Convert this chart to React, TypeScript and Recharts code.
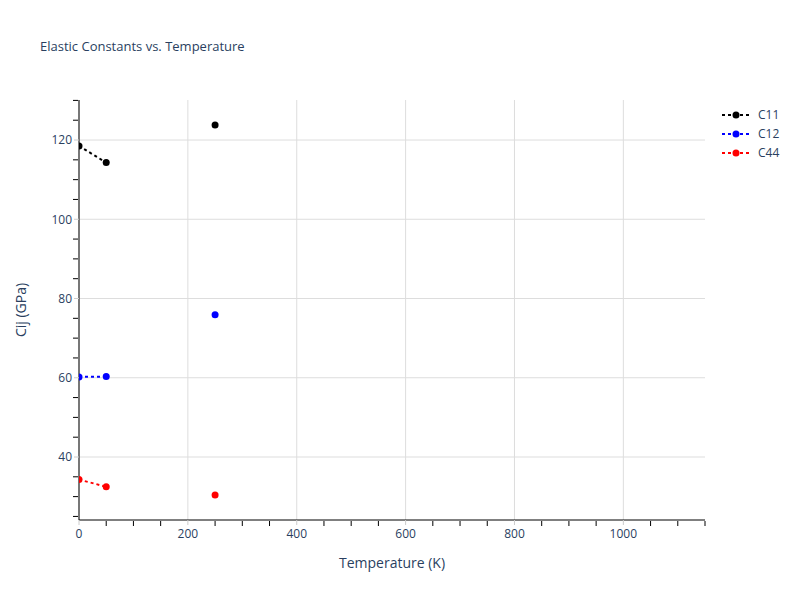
import React from 'react';
import { LineChart, Line, XAxis, YAxis, CartesianGrid } from 'recharts';

// temperatures (K); the null row at 150 breaks the dotted line before 250
const temps = [0, 50, 150, 250];
const c11 = [118.5, 114.3, null, 123.8];
const c12 = [60.2, 60.3, null, 75.9];
const c44 = [34.3, 32.5, null, 30.4];

const xMajor = [0, 200, 400, 600, 800, 1000];
const xMinor = [50, 100, 150, 250, 300, 350, 450, 500, 550, 650, 700, 750, 850, 900, 950, 1050, 1100, 1150];
const yMajor = [40, 60, 80, 100, 120];
const yMinor = [25, 30, 35, 45, 50, 55, 65, 70, 75, 85, 90, 95, 105, 110, 115, 125, 130];

const series = [
  { key: 'C11', color: '#000000' },
  { key: 'C12', color: '#0000ff' },
  { key: 'C44', color: '#ff0000' },
];

const rows = temps.map((t, i) => ({ T: t, C11: c11[i], C12: c12[i], C44: c44[i] }));

const font = '"Open Sans", Verdana, Arial, sans-serif';
const textColor = '#2a3f5f';
const gridColor = '#dddddd';

const noLabel = () => <g />;

export default function App() {
  return (
    <div style={{ position: 'absolute', left: 0, top: 0, width: 800, height: 600, background: '#fff', fontFamily: font }}>
      <LineChart width={800} height={600} data={rows} margin={{ top: 100, right: 95, bottom: 78, left: 77 }}>
        <CartesianGrid stroke={gridColor} strokeWidth={1} syncWithTicks />
        <XAxis
          dataKey="T"
          type="number"
          domain={[0, 1150]}
          ticks={xMajor}
          interval={0}
          allowDataOverflow
          height={1}
          tickLine={{ stroke: '#cccccc' }}
          tickSize={5}
          tickMargin={4}
          axisLine={{ stroke: '#000', strokeWidth: 1 }}
          tick={{ fill: textColor, fontSize: 12, fontFamily: font }}
        />
        <YAxis
          type="number"
          domain={[24.1, 130.1]}
          ticks={yMajor}
          interval={0}
          allowDataOverflow
          width={1}
          tickLine={{ stroke: '#cccccc' }}
          tickSize={5}
          tickMargin={2}
          axisLine={{ stroke: '#000', strokeWidth: 1 }}
          tick={{ fill: textColor, fontSize: 12, fontFamily: font }}
        />
        <XAxis
          xAxisId="minor"
          dataKey="T"
          type="number"
          domain={[0, 1150]}
          ticks={xMinor}
          interval={0}
          allowDataOverflow
          height={1}
          tick={noLabel}
          tickSize={5}
          tickLine={{ stroke: '#000' }}
          axisLine={false}
        />
        <YAxis
          yAxisId="minor"
          type="number"
          domain={[24.1, 130.1]}
          ticks={yMinor}
          interval={0}
          allowDataOverflow
          width={1}
          tick={noLabel}
          tickSize={5}
          tickLine={{ stroke: '#000' }}
          axisLine={false}
        />
        {series.map((s) => (
          <Line
            key={s.key}
            dataKey={s.key}
            stroke={s.color}
            strokeWidth={2}
            strokeDasharray="3 3"
            dot={{ r: 3.5, fill: s.color, stroke: s.color, strokeWidth: 0, strokeDasharray: '' }}
            activeDot={false}
            isAnimationActive={false}
          />
        ))}
      </LineChart>

      <div style={{ position: 'absolute', left: 40, top: 37, fontSize: 13, color: textColor, whiteSpace: 'nowrap' }}>
        Elastic Constants vs. Temperature
      </div>
      <div style={{ position: 'absolute', left: 292, width: 200, top: 553, textAlign: 'center', fontSize: 14, color: textColor }}>
        Temperature (K)
      </div>
      <div
        style={{
          position: 'absolute',
          left: 20,
          top: 310,
          fontSize: 14,
          color: textColor,
          whiteSpace: 'nowrap',
          transform: 'translate(-50%, -50%) rotate(-90deg)',
        }}
      >
        Cij (GPa)
      </div>

      <div style={{ position: 'absolute', left: 720, top: 105 }}>
        {series.map((s) => (
          <div key={s.key} style={{ display: 'flex', alignItems: 'center', height: 19 }}>
            <svg width={32} height={10}>
              <line x1={2} y1={5} x2={30} y2={5} stroke={s.color} strokeWidth={2} strokeDasharray="3 3" />
              <circle cx={16} cy={5} r={3.5} fill={s.color} />
            </svg>
            <span style={{ marginLeft: 6, fontSize: 12, color: textColor }}>{s.key}</span>
          </div>
        ))}
      </div>
    </div>
  );
}
